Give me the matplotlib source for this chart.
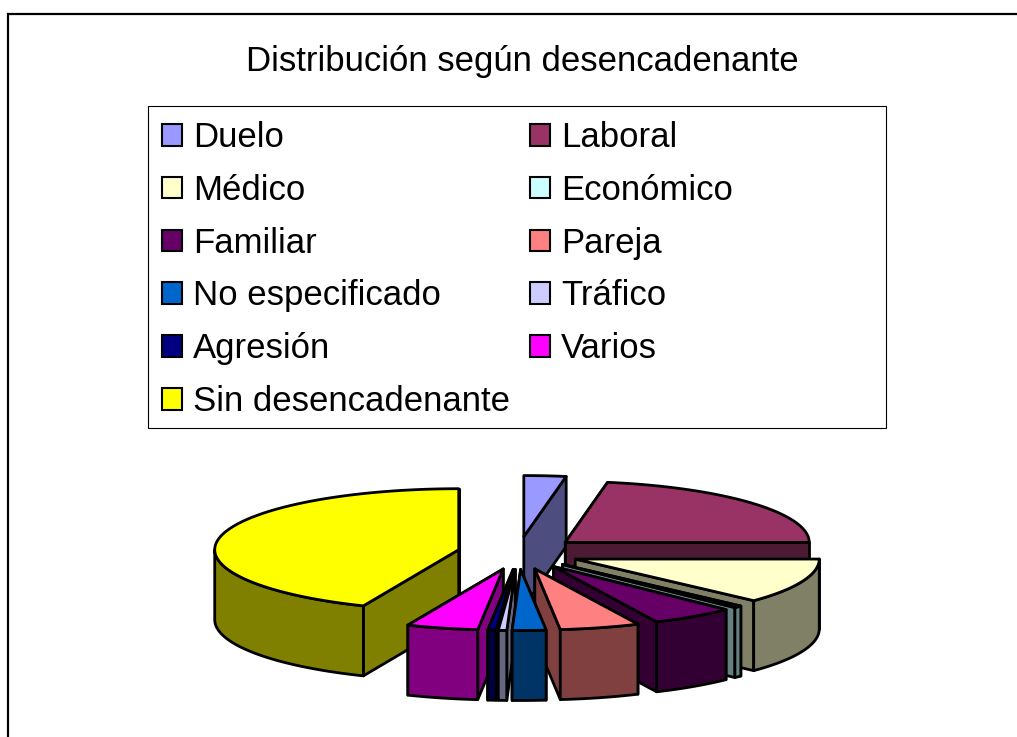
import numpy as np
import matplotlib
matplotlib.use("Agg")
import matplotlib.pyplot as plt
from matplotlib.patches import Patch, Polygon, Rectangle

plt.rcParams['font.family'] = ['Liberation Sans', 'DejaVu Sans']

TITLE = "Distribución según desencadenante"
categories = ["Duelo", "Laboral", "Médico", "Económico", "Familiar", "Pareja",
              "No especificado", "Tráfico", "Agresión", "Varios", "Sin desencadenante"]
values = [5, 40, 21.5, 1, 10, 9.5, 4, 1, 1, 8.5, 78.5]
top_colors = ["#9999FF", "#993366", "#FFFFCC", "#CCFFFF", "#660066", "#FF8080",
              "#0066CC", "#CCCCFF", "#000080", "#FF00FF", "#FFFF00"]
side_colors = ["#4D4D80", "#4D1A33", "#808066", "#668080", "#330033", "#804040",
               "#003366", "#666680", "#000040", "#800080", "#808000"]

W, H = 1017, 737
CX, CY, RX, RY, DEPTH = 518.5, 553, 244, 61, 70
EXPLODE = 0.25
EY = 16.5
LW = 2.0
FS = 25

fig = plt.figure(figsize=(W / 100, H / 100), dpi=100, facecolor="white")
ax = fig.add_axes([0, 0, 1, 1])
ax.set_xlim(0, W)
ax.set_ylim(H, 0)
ax.axis("off")

# outer chart border, open at right and bottom as cropped
ax.plot([8, 8, W], [H, 14, 14], color="black", lw=1.6, solid_joinstyle="miter")

ax.text(522, 61, TITLE, ha="center", va="center", fontsize=FS)

# legend
ax.add_patch(Rectangle((148, 106), 738, 322, fc="white", ec="black", lw=0.8))
handles = [Patch(facecolor=c, edgecolor="black", linewidth=1.5, label=l)
           for c, l in zip(top_colors, categories)]
order = [0, 2, 4, 6, 8, 10, 1, 3, 5, 7, 9]
ax.legend([handles[i] for i in order], [categories[i] for i in order],
          ncol=2, loc="upper left", bbox_to_anchor=(162 / W, 1 - 121 / H),
          frameon=False, fontsize=FS, borderpad=0, borderaxespad=0,
          handlelength=0.58, handleheight=0.58, handletextpad=0.32,
          columnspacing=0.56, labelspacing=0.57)

# pie
frac = np.array(values, dtype=float) / np.sum(values) * 360
ends = np.cumsum(frac)
starts = ends - frac


def pt(t, ox, oy):
    r = np.radians(t)
    return ox + RX * np.sin(r), oy - RY * np.cos(r)


def wedge(i):
    t0, t1 = starts[i], ends[i]
    mid = np.radians((t0 + t1) / 2)
    ox = CX + EXPLODE * RX * np.sin(mid)
    oy = CY - EY * np.cos(mid)
    kw = dict(ec="black", lw=LW, joinstyle="round")
    faces = sorted([t0, t1], key=lambda t: -np.cos(np.radians(t)))
    for t in faces:
        x, y = pt(t, ox, oy)
        ax.add_patch(Polygon([(ox, oy), (x, y), (x, y + DEPTH), (ox, oy + DEPTH)],
                             fc=side_colors[i], **kw))
    a, b = max(t0, 90), min(t1, 270)
    if b > a:
        ts = np.linspace(a, b, 60)
        xs, ys = pt(ts, ox, oy)
        verts = list(zip(xs, ys)) + list(zip(xs[::-1], ys[::-1] + DEPTH))
        ax.add_patch(Polygon(verts, fc=side_colors[i], **kw))
    ts = np.linspace(t0, t1, 90)
    xs, ys = pt(ts, ox, oy)
    ax.add_patch(Polygon([(ox, oy)] + list(zip(xs, ys)), fc=top_colors[i], **kw))


mids = (starts + ends) / 2
for i in sorted(range(len(values)), key=lambda k: -np.cos(np.radians(mids[k]))):
    wedge(i)

fig.savefig("out.png", dpi=100)
